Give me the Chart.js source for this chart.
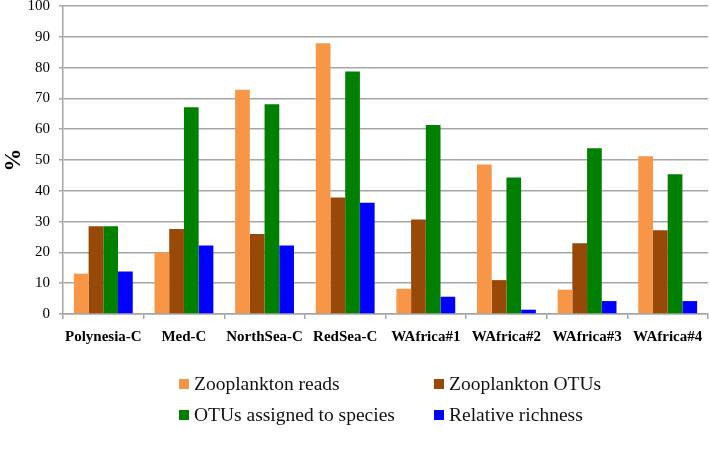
<!DOCTYPE html>
<html>
<head>
<meta charset="utf-8">
<script src="https://cdn.jsdelivr.net/npm/chart.js@4/dist/chart.umd.min.js"></script>
<style>
  html, body { margin: 0; padding: 0; background: #fff; }
  #wrap { position: relative; width: 709px; height: 466px; }
  #chart { position: absolute; left: 0; top: 0; }
  .legend-item {
    position: absolute;
    font-family: "Liberation Serif", "DejaVu Serif", serif;
    font-size: 19.5px;
    color: #111;
    line-height: 20px;
    white-space: nowrap;
  }
  .legend-item .box {
    display: inline-block;
    width: 10px;
    height: 10px;
    margin-right: 5px;
    vertical-align: 1px;
  }
</style>
</head>
<body>
<div id="wrap">
  <canvas id="chart" width="709" height="466"></canvas>
  <div id="legend"></div>
</div>
<script>
const categories = ["Polynesia-C", "Med-C", "NorthSea-C", "RedSea-C", "WAfrica#1", "WAfrica#2", "WAfrica#3", "WAfrica#4"];
const zooplanktonReads = [13.1, 20.0, 72.8, 87.9, 8.2, 48.5, 7.9, 51.2];
const zooplanktonOtus = [28.5, 27.6, 26.0, 37.8, 30.7, 11.0, 23.0, 27.2];
const otusAssigned = [28.5, 67.1, 68.1, 78.7, 61.4, 44.3, 53.8, 45.4];
const relativeRichness = [13.8, 22.2, 22.2, 36.1, 5.6, 1.4, 4.2, 4.2];
const yTicks = [0, 10, 20, 30, 40, 50, 60, 70, 80, 90, 100];

const serif = "'Liberation Serif', 'DejaVu Serif', serif";
const gridColor = "#a6a6a6";

function bar(label, data, color) {
  return { label, data, backgroundColor: color, borderWidth: 0 };
}

const chart = new Chart(document.getElementById("chart"), {
  type: "bar",
  data: {
    labels: categories,
    datasets: [
      bar("Zooplankton reads", zooplanktonReads, "#f79646"),
      bar("Zooplankton OTUs", zooplanktonOtus, "#984807"),
      bar("OTUs assigned to species", otusAssigned, "#008000"),
      bar("Relative richness", relativeRichness, "#0000ff"),
    ],
  },
  options: {
    responsive: false,
    animation: false,
    layout: { padding: { top: 6, right: 1, bottom: 0, left: 0 } },
    datasets: { bar: { categoryPercentage: 0.73, barPercentage: 1 } },
    plugins: { legend: { display: false }, tooltip: { enabled: false } },
    scales: {
      x: {
        offset: true,
        grid: { offset: true, drawOnChartArea: false, color: gridColor, lineWidth: 1.5, tickLength: 5 },
        border: { color: gridColor, width: 1.5 },
        ticks: { color: "#000", padding: 9, font: { family: serif, size: 15, weight: "bold" }, maxRotation: 0, autoSkip: false },
        afterFit(scale) {
          scale.height = 152;
          scale.paddingLeft = 0;
          scale.paddingRight = 0;
        },
      },
      y: {
        min: 0,
        max: 100,
        afterBuildTicks(scale) { scale.ticks = yTicks.map((value) => ({ value })); },
        grid: { color: gridColor, lineWidth: 1.5, tickLength: 4 },
        border: { color: gridColor, width: 1.5 },
        ticks: { color: "#000", padding: 9, font: { family: serif, size: 15 } },
        title: { display: true, text: "%", color: "#000", padding: 0, font: { family: serif, size: 23, weight: "bold" } },
        afterFit(scale) {
          scale.width = 63;
          scale.paddingTop = 0;
          scale.paddingBottom = 0;
        },
      },
    },
  },
});

// HTML legend in two columns like the original
const legendPos = [
  { left: 179, top: 374 },
  { left: 434, top: 374 },
  { left: 179, top: 405 },
  { left: 434, top: 405 },
];
const legend = document.getElementById("legend");
legend.innerHTML = chart.options.plugins.legend.labels
  .generateLabels(chart)
  .map(
    (item, i) => `
      <div class="legend-item" style="left:${legendPos[i].left}px;top:${legendPos[i].top}px">
        <span class="box" style="background:${item.fillStyle}"></span>${item.text}
      </div>
    `,
  )
  .join("");
</script>
</body>
</html>
